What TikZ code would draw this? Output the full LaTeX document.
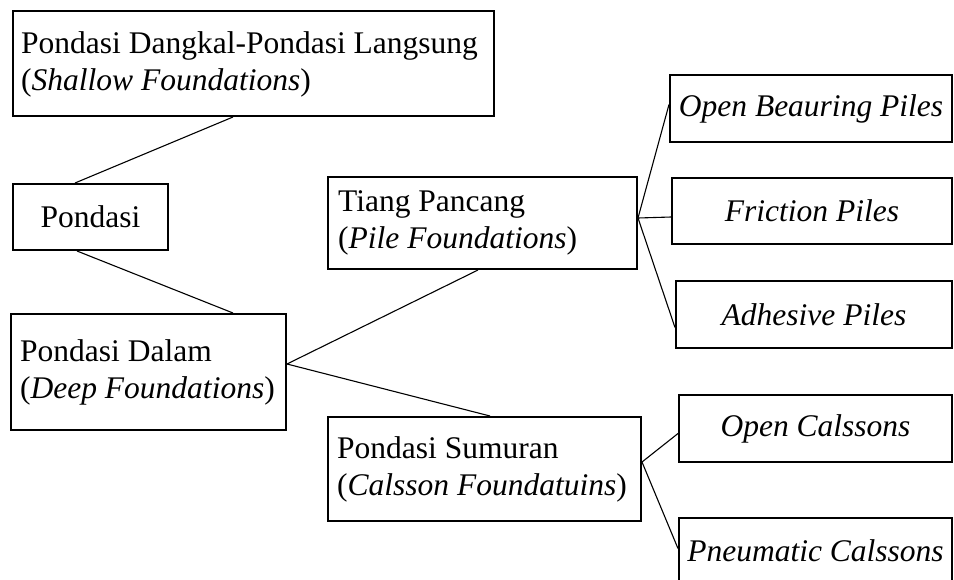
\documentclass[tikz,border=0pt]{standalone}
\usepackage{fontspec}
\setmainfont{Liberation Serif}
\begin{document}
\begin{tikzpicture}[x=1pt,y=-1pt,
  box/.style={draw, line width=2pt, rectangle, inner sep=0pt, anchor=north west,
    font=\fontsize{31.5}{37}\selectfont},
  lbl/.style={anchor=west, inner sep=0pt, align=left, font=\fontsize{31.5}{37}\selectfont},
  conn/.style={line width=1.1pt}]
\useasboundingbox (0,0) rectangle (954,579);
\fill[white] (0,0) rectangle (954,579);
\clip (0,0) rectangle (954,579);
% boxes
\node[box, minimum width=481pt, minimum height=105pt] (sh) at (12,10) {};
\node[lbl] (shT) at ([xshift=9pt,yshift=-1pt]sh.west)
  {Pondasi Dangkal-Pondasi Langsung\\(\textit{Shallow Foundations})};
\node[box, minimum width=155pt, minimum height=66pt] (pd) at (12,183) {Pondasi};
\node[box, minimum width=275pt, minimum height=116pt] (dp) at (10,313) {};
\node[lbl] (dpT) at ([xshift=10pt]dp.west) {Pondasi Dalam\\(\textit{Deep Foundations})};
\node[box, minimum width=309pt, minimum height=92pt] (tp) at (327,176) {};
\node[lbl] (tpT) at ([xshift=11pt]tp.west) {Tiang Pancang\\(\textit{Pile Foundations})};
\node[box, minimum width=313pt, minimum height=104pt] (ps) at (327,416) {};
\node[lbl] (psT) at ([xshift=10pt]ps.west) {Pondasi Sumuran\\(\textit{Calsson Foundatuins})};
\node[box, minimum width=282pt, minimum height=67pt] (ob) at (669,74) {\textit{Open Beauring Piles}};
\node[box, minimum width=280pt, minimum height=66pt] (fr) at (671,177) {\textit{Friction Piles}};
\node[box, minimum width=276pt, minimum height=67pt] (ad) at (675,280) {\textit{Adhesive Piles}};
\node[box, minimum width=273pt, minimum height=67pt] (oc) at (678,394) {\textit{Open Calssons}};
\node[box, minimum width=273pt, minimum height=65pt] (pn) at (678,517) {\textit{Pneumatic Calssons}};
% connectors
\draw[conn] ([xshift=221pt]sh.south west) -- ([xshift=63pt]pd.north west);
\draw[conn] ([xshift=65pt]pd.south west) -- ([xshift=223pt]dp.north west);
\draw[conn] ([yshift=8pt]dp.east) -- ([xshift=151pt]tp.south west);
\draw[conn] ([yshift=8pt]dp.east) -- ([xshift=163pt]ps.north west);
\draw[conn] ([yshift=5pt]tp.east) -- ([yshift=4pt]ob.west);
\draw[conn] ([yshift=5pt]tp.east) -- ([yshift=-6pt]fr.west);
\draw[conn] ([yshift=5pt]tp.east) -- ([yshift=-13pt]ad.west);
\draw[conn] ([yshift=7pt]ps.east) -- ([yshift=-5pt]oc.west);
\draw[conn] ([yshift=7pt]ps.east) -- ([yshift=2pt]pn.west);
\end{tikzpicture}
\end{document}
